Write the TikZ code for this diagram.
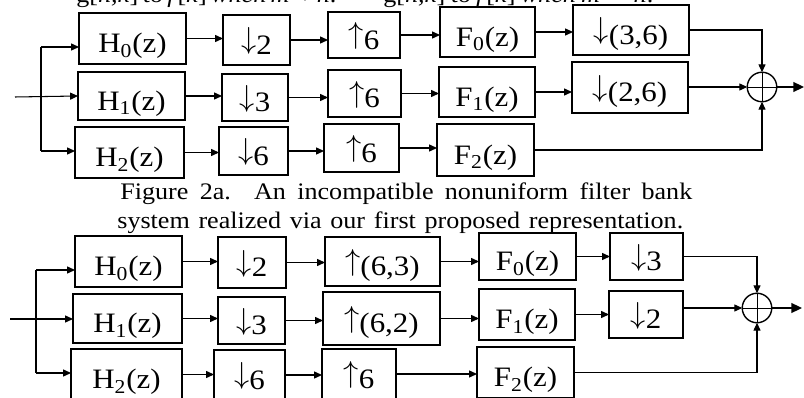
\documentclass[tikz,border=0pt]{standalone}
\usepackage{fontspec}
\setmainfont{Liberation Serif}[FakeStretch=1.1]
\usetikzlibrary{arrows.meta}

\newcommand{\arrdn}{\raisebox{0.19em}{$\downarrow$}}
\newcommand{\arrup}{\raisebox{0.19em}{$\uparrow$}}

\tikzset{
  blk/.style={draw, line width=1pt, inner sep=0pt, outer sep=0pt,
    text height=16pt, text depth=0pt, font=\fontsize{16}{18}\selectfont},
  arr/.style={line width=0.6pt, -{Triangle[length=4.5pt,width=4pt]}},
  outarr/.style={line width=1pt, -{Triangle[length=6pt,width=5.5pt]}},
  adder/.style={draw, circle, line width=0.8pt, inner sep=0pt, outer sep=0pt,
    minimum size=0.59cm,
    path picture={\draw[line width=0.5pt]
      (path picture bounding box.north) -- (path picture bounding box.south)
      (path picture bounding box.west) -- (path picture bounding box.east);}},
  captext/.style={inner sep=0pt, anchor=base west, font=\fontsize{13.5}{15}\selectfont}
}

\begin{document}
\begin{tikzpicture}[x=0.02cm, y=-0.02cm]
    \useasboundingbox (0,0) rectangle (804,398);
    % Text cut by the top edge
    \node[captext] (prev1) at (76,3) {\makebox[5.14cm][s]{g[\textit{n,k}] to \textit{f}[\textit{k}] \textit{when m'} ≠\textit{n}.}};
    \node[captext] (prev2) at (383,3) {\makebox[5.4cm][s]{g[\textit{n,k}] to \textit{f}[\textit{k}] \textit{when m'} = \textit{n}.}};
    % First bank
    \foreach \n/\x/\y/\w/\h/\t in {
        ah0/132.5/38.5/107/51/{H\textsubscript{0}(z)},
        ad0/256.5/40/67/50/{\arrdn2},
        au0/364/35/72/46/{\arrup6},
        af0/487.5/32/95/50/{F\textsubscript{0}(z)},
        ar0/631/30/116/50/{\arrdn(3,6)},
        ah1/131.5/96/107/48/{H\textsubscript{1}(z)},
        ad1/255/97.5/66/47/{\arrdn3},
        au1/364.5/93.5/73/47/{\arrup6},
        af1/487/92/96/50/{F\textsubscript{1}(z)},
        ar1/630/87.5/116/51/{\arrdn(2,6)},
        ah2/129.5/152.5/109/51/{H\textsubscript{2}(z)},
        ad2/253.5/151/69/48/{\arrdn6},
        au2/361.5/148/75/48/{\arrup6},
        af2/485.5/150/97/52/{F\textsubscript{2}(z)}}
        \node[blk, minimum width=\w*0.02cm, minimum height=\h*0.02cm] (\n) at (\x,\y) {\t};
    \node[adder] (asum) at (762,87) {};
    \coordinate (ain) at (15,97);
    \coordinate (atop) at (41,47);
    \coordinate (abot) at (41,151);
    \coordinate (aout) at (804,87);
    \draw[arr] (ain) -- (ah1.west);
    \draw[line width=0.6pt] (atop) -- (abot);
    \draw[arr] (atop) -- (atop -| ah0.west);
    \draw[arr] (abot) -- (abot -| ah2.west);
    \foreach \a/\b in {ah0/ad0,ad0/au0,au0/af0,af0/ar0,ah1/ad1,ad1/au1,au1/af1,af1/ar1,ah2/ad2,ad2/au2,au2/af2}
        \draw[arr] (\a.east) -- (\a.east -| \b.west);
    \draw[arr] (ar0.east) -| (asum.north);
    \draw[arr] (ar1.east |- asum) -- (asum.west);
    \draw[arr] (af2.east) -| (asum.south);
    \draw[outarr] (asum.east) -- (aout);
    % Caption
    \node[captext] (cap1) at (120,199.5) {\makebox[11.44cm][s]{Figure 2a. An incompatible nonuniform filter bank}};
    \node[captext] (cap2) at (117,229) {\makebox[11.32cm][s]{system realized via our first proposed representation.}};
    % Second bank
    \foreach \n/\x/\y/\w/\h/\t in {
        bh0/128.5/261.5/107/51/{H\textsubscript{0}(z)},
        bd0/252/262.5/68/51/{\arrdn2},
        bu0/382.5/261.5/115/49/{\arrup(6,3)},
        bf0/527.5/256.5/97/47/{F\textsubscript{0}(z)},
        br0/646.5/256.5/73/47/{\arrdn3},
        bh1/127.5/318.5/109/49/{H\textsubscript{1}(z)},
        bd1/251.5/320.5/67/47/{\arrdn3},
        bu1/381.5/318.5/117/53/{\arrup(6,2)},
        bf1/527/314.5/96/51/{F\textsubscript{1}(z)},
        br1/646/314.5/74/47/{\arrdn2},
        bh2/126.5/374.5/111/51/{H\textsubscript{2}(z)},
        bd2/249.5/375/71/50/{\arrdn6},
        bu2/359/374/74/50/{\arrup6},
        bf2/525.5/372.5/97/51/{F\textsubscript{2}(z)}}
        \node[blk, minimum width=\w*0.02cm, minimum height=\h*0.02cm] (\n) at (\x,\y) {\t};
    \node[adder] (bsum) at (757,308) {};
    \coordinate (bin) at (10,319);
    \coordinate (btop) at (36,270);
    \coordinate (bbot) at (36,373);
    \coordinate (bout) at (802,308);
    \draw[arr] (bin) -- (bin -| bh1.west);
    \draw[line width=0.6pt] (btop) -- (bbot);
    \draw[arr] (btop) -- (btop -| bh0.west);
    \draw[arr] (bbot) -- (bbot -| bh2.west);
    \foreach \a/\b in {bh0/bd0,bd0/bu0,bu0/bf0,bf0/br0,bh1/bd1,bd1/bu1,bu1/bf1,bf1/br1,bh2/bd2,bd2/bu2,bu2/bf2}
        \draw[arr] (\a.east) -- (\a.east -| \b.west);
    \draw[arr] (br0.east) -| (bsum.north);
    \draw[arr] (br1.east |- bsum) -- (bsum.west);
    \draw[arr] (bf2.east) -| (bsum.south);
    \draw[outarr] (bsum.east) -- (bout);
\end{tikzpicture}
\end{document}
